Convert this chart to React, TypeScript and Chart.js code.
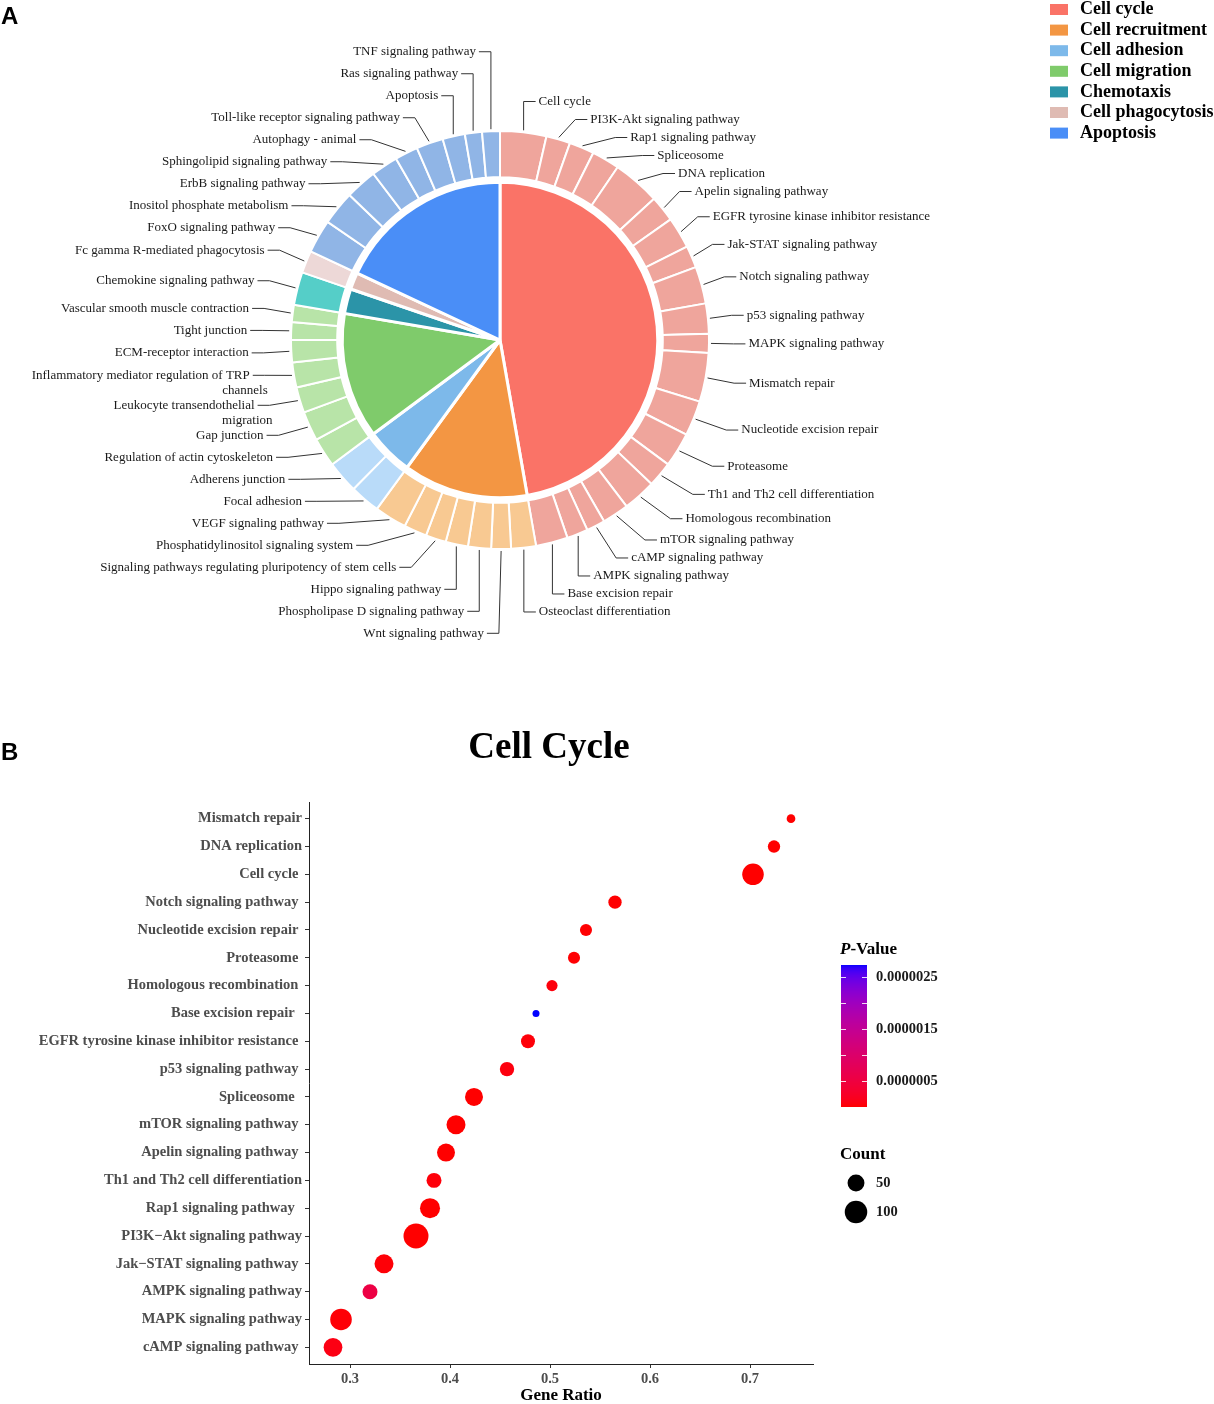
import React, { useEffect, useRef } from 'react';
import { Chart, registerables } from 'chart.js';

Chart.register(...registerables);

const SERIF = "'Liberation Serif', 'Times New Roman', serif";
const SANS = "'Liberation Sans', Arial, sans-serif";

// ---------------- Panel A data ----------------
const categories = ['Cell cycle', 'Cell recruitment', 'Cell adhesion', 'Cell migration', 'Chemotaxis', 'Cell phagocytosis', 'Apoptosis'];
const innerColors = ['#FA7367', '#F39643', '#7DB9EA', '#7FCB6B', '#2B94A8', '#DFBBB3', '#4A8EF7'];
const outerColors = ['#EFA59C', '#F8C992', '#B9DBF9', '#B8E4A8', '#55CEC8', '#EDD8D7', '#90B5E6'];

const cellCyclePathways = ['Cell cycle', 'PI3K-Akt signaling pathway', 'Rap1 signaling pathway', 'Spliceosome', 'DNA replication', 'Apelin signaling pathway', 'EGFR tyrosine kinase inhibitor resistance', 'Jak-STAT signaling pathway', 'Notch signaling pathway', 'p53 signaling pathway', 'MAPK signaling pathway', 'Mismatch repair', 'Nucleotide excision repair', 'Proteasome', 'Th1 and Th2 cell differentiation', 'Homologous recombination', 'mTOR signaling pathway', 'cAMP signaling pathway', 'AMPK signaling pathway', 'Base excision repair'];
const cellCycleShares = [0.703, 0.366, 0.38, 0.424, 0.724, 0.396, 0.478, 0.334, 0.565, 0.457, 0.291, 0.741, 0.536, 0.524, 0.384, 0.502, 0.406, 0.283, 0.32, 0.486];

const recruitmentPathways = ['Osteoclast differentiation', 'Wnt signaling pathway', 'Phospholipase D signaling pathway', 'Hippo signaling pathway', 'Signaling pathways regulating pluripotency of stem cells', 'Phosphatidylinositol signaling system', 'VEGF signaling pathway'];
const recruitmentShares = [0.377, 0.3, 0.35, 0.34, 0.31, 0.35, 0.49];

const adhesionPathways = ['Focal adhesion', 'Adherens junction'];
const adhesionShares = [0.46, 0.49];

const migrationPathways = ['Regulation of actin cytoskeleton', 'Gap junction', 'Leukocyte transendothelial\nmigration', 'Inflammatory mediator regulation of TRP\nchannels', 'ECM-receptor interaction', 'Tight junction', 'Vascular smooth muscle contraction'];
const migrationShares = [0.44, 0.45, 0.39, 0.38, 0.34, 0.27, 0.26];

const chemotaxisPathways = ['Chemokine signaling pathway'];
const chemotaxisShares = [0.5];

const phagocytosisPathways = ['Fc gamma R-mediated phagocytosis'];
const phagocytosisShares = [0.34];

const apoptosisPathways = ['FoxO signaling pathway', 'Inositol phosphate metabolism', 'ErbB signaling pathway', 'Sphingolipid signaling pathway', 'Autophagy - animal', 'Toll-like receptor signaling pathway', 'Apoptosis', 'Ras signaling pathway', 'TNF signaling pathway'];
const apoptosisShares = [0.51, 0.52, 0.48, 0.41, 0.35, 0.41, 0.34, 0.26, 0.27];

// ---------------- Panel B data ----------------
const bubbleTitle = 'Cell Cycle';
const yLabels = ['Mismatch repair', 'DNA replication', 'Cell cycle ', 'Notch signaling pathway ', 'Nucleotide excision repair ', 'Proteasome ', 'Homologous recombination ', 'Base excision repair  ', 'EGFR tyrosine kinase inhibitor resistance ', 'p53 signaling pathway ', 'Spliceosome  ', 'mTOR signaling pathway ', 'Apelin signaling pathway ', 'Th1 and Th2 cell differentiation', 'Rap1 signaling pathway  ', 'PI3K\u2212Akt signaling pathway', 'Jak\u2212STAT signaling pathway ', 'AMPK signaling pathway', 'MAPK signaling pathway', 'cAMP signaling pathway '];
const geneRatio = [0.741, 0.724, 0.703, 0.565, 0.536, 0.524, 0.502, 0.486, 0.478, 0.457, 0.424, 0.406, 0.396, 0.384, 0.38, 0.366, 0.334, 0.32, 0.291, 0.283];
const geneCount = [17, 26, 90, 30, 25, 25, 22, 16, 33, 35, 58, 66, 58, 38, 75, 129, 66, 38, 90, 64];
const pValue = [2.1e-10, 1.5e-14, 3.2e-37, 4.6e-9, 7.5e-9, 1.4e-8, 5.0e-8, 2.74e-6, 3.8e-8, 6.1e-8, 2.2e-12, 9.5e-11, 1.8e-9, 4.3e-8, 6.7e-10, 1.2e-12, 3.1e-8, 5.5e-7, 2.6e-8, 8.9e-8];
const xTicks = [0.3, 0.4, 0.5, 0.6, 0.7];
const colorbarBreaks = [0.0000005, 0.000001, 0.0000015, 0.000002, 0.0000025];
const colorbarLabels = ['0.0000005', '', '0.0000015', '', '0.0000025'];
const sizeBreaks = [50, 100];

// ---------------- helpers ----------------
function lin(c: number) { c /= 255; return c <= 0.04045 ? c / 12.92 : Math.pow((c + 0.055) / 1.055, 2.4); }
function unlin(c: number) { const v = c <= 0.0031308 ? 12.92 * c : 1.055 * Math.pow(c, 1 / 2.4) - 0.055; return Math.round(Math.min(1, Math.max(0, v)) * 255); }
const WX = 0.95047, WY = 1, WZ = 1.08883;
function fL(t: number) { return t > 216 / 24389 ? Math.cbrt(t) : (24389 / 27 * t + 16) / 116; }
function fLinv(t: number) { const t3 = t * t * t; return t3 > 216 / 24389 ? t3 : (116 * t - 16) / (24389 / 27); }
function toLab(rgb: number[]) {
  const R = lin(rgb[0]), G = lin(rgb[1]), B = lin(rgb[2]);
  const X = (0.4124564 * R + 0.3575761 * G + 0.1804375 * B) / WX;
  const Y = (0.2126729 * R + 0.7151522 * G + 0.072175 * B) / WY;
  const Z = (0.0193339 * R + 0.119192 * G + 0.9503041 * B) / WZ;
  const fx = fL(X), fy = fL(Y), fz = fL(Z);
  return [116 * fy - 16, 500 * (fx - fy), 200 * (fy - fz)];
}
function fromLab(lab: number[]) {
  const fy = (lab[0] + 16) / 116, fx = fy + lab[1] / 500, fz = fy - lab[2] / 200;
  const X = fLinv(fx) * WX, Y = fLinv(fy) * WY, Z = fLinv(fz) * WZ;
  const R = 3.2404542 * X - 1.5371385 * Y - 0.4985314 * Z;
  const G = -0.969266 * X + 1.8760108 * Y + 0.041556 * Z;
  const B = 0.0556434 * X - 0.2040259 * Y + 1.0572252 * Z;
  return [unlin(R), unlin(G), unlin(B)];
}
const LOW = toLab([255, 0, 0]);
const HIGH = toLab([0, 0, 255]);
const pMin = Math.min(...pValue);
const pMax = Math.max(...pValue);
function colorOf(p: number) {
  const t = Math.min(1, Math.max(0, (p - pMin) / (pMax - pMin)));
  const c = fromLab([0, 1, 2].map((k) => LOW[k] + (HIGH[k] - LOW[k]) * t));
  return `rgb(${c[0]},${c[1]},${c[2]})`;
}
const cMin = Math.min(...geneCount);
const cMax = Math.max(...geneCount);
function sizeOf(c: number) {
  const t = Math.min(1, Math.max(0, (c - cMin) / (cMax - cMin)));
  return 3.5 + 9 * Math.sqrt(t);
}

const ringGroups = [
  { names: cellCyclePathways, values: cellCycleShares },
  { names: recruitmentPathways, values: recruitmentShares },
  { names: adhesionPathways, values: adhesionShares },
  { names: migrationPathways, values: migrationShares },
  { names: chemotaxisPathways, values: chemotaxisShares },
  { names: phagocytosisPathways, values: phagocytosisShares },
  { names: apoptosisPathways, values: apoptosisShares },
];
const ringNames: string[] = [];
const ringValues: number[] = [];
const ringColors: string[] = [];
ringGroups.forEach((g, gi) => {
  g.names.forEach((n, i) => { ringNames.push(n); ringValues.push(g.values[i]); ringColors.push(outerColors[gi]); });
});
const innerValues = ringGroups.map((g) => g.values.reduce((s, v) => s + v, 0));

type LabelItem = { lines: string[]; a: number; side: number; nat: number; y: number };

// cluster-based spreading (keeps the mean position of crowded groups)
function layoutCluster(items: LabelItem[], gap: number, extra: number) {
  items.sort((p, q) => p.nat - q.nat);
  const after = (it: LabelItem) => gap + (it.lines.length - 1) * extra;
  const clusters: LabelItem[][] = items.map((it) => [it]);
  const place = (c: LabelItem[]) => {
    let off = 0; const offs: number[] = [];
    c.forEach((it) => { offs.push(off); off += after(it); });
    let s = 0; c.forEach((it, k) => { s += it.nat - offs[k]; });
    s /= c.length;
    c.forEach((it, k) => { it.y = s + offs[k]; });
  };
  clusters.forEach(place);
  let merged = true;
  while (merged) {
    merged = false;
    for (let i = 0; i < clusters.length - 1; i++) {
      const A = clusters[i], B = clusters[i + 1];
      const last = A[A.length - 1];
      if (last.y + after(last) > B[0].y + 1e-6) {
        A.push(...B); clusters.splice(i + 1, 1); place(A); merged = true; break;
      }
    }
  }
}
// greedy push-down spreading
function layoutDown(items: LabelItem[], gap: number) {
  items.sort((p, q) => p.nat - q.nat);
  let prev = -Infinity;
  items.forEach((it) => { it.y = Math.max(it.nat, prev + gap); prev = it.y; });
}

const pieDecor = {
  id: 'pieDecor',
  afterDraw(chart: any) {
    const ctx = chart.ctx as CanvasRenderingContext2D;
    const meta = chart.getDatasetMeta(0);
    let cx = 0, cy = 0, R = 0;
    const items: LabelItem[] = meta.data.map((arc: any, i: number) => {
      const p = arc.getProps(['x', 'y', 'startAngle', 'endAngle', 'outerRadius'], true);
      cx = p.x; cy = p.y; R = p.outerRadius;
      const a = (p.startAngle + p.endAngle) / 2;
      let theta = (a + Math.PI / 2) % (2 * Math.PI);
      if (theta < 0) theta += 2 * Math.PI;
      const side = theta < (178 * Math.PI) / 180 ? 1 : -1;
      return { lines: ringNames[i].split('\n'), a, side, nat: p.y + Math.sin(a) * 240, y: 0 };
    });
    layoutDown(items.filter((it) => it.side > 0), 18);
    layoutCluster(items.filter((it) => it.side < 0), 22, 8);
    const H = 12;
    ctx.save();
    ctx.strokeStyle = '#333';
    ctx.lineWidth = 1;
    ctx.fillStyle = '#1a1a1a';
    ctx.font = `13px ${SERIF}`;
    ctx.textBaseline = 'middle';
    items.forEach((it) => {
      const dy = it.y - cy;
      const Re = it.side > 0
        ? (dy < 0 ? 233 : 233 + 14 * Math.min(1, dy / 120))
        : (dy < 0 ? 238 : 236 + 8 * Math.min(1, dy / 150));
      const r0 = R + 2;
      const x0 = cx + Math.cos(it.a) * r0, y0 = cy + Math.sin(it.a) * r0;
      let ex = Math.sqrt(Math.max(0, Re * Re - dy * dy));
      ex = Math.max(ex, Math.abs(Math.cos(it.a)) * r0);
      const exX = cx + it.side * ex;
      ctx.beginPath();
      ctx.moveTo(x0, y0);
      ctx.lineTo(exX, it.y);
      ctx.lineTo(exX + it.side * H, it.y);
      ctx.stroke();
      const tx = exX + it.side * (H + 3);
      ctx.textAlign = it.side > 0 ? 'left' : 'right';
      ctx.fillText(it.lines[0], tx, it.y);
      for (let k = 1; k < it.lines.length; k++) {
        ctx.fillText(it.lines[k], tx - it.side * 18 * k, it.y + 15 * k);
      }
    });
    // legend
    ctx.textAlign = 'left';
    ctx.font = `bold 18px ${SERIF}`;
    categories.forEach((c, i) => {
      const yy = 9.5 + i * 20.6;
      ctx.fillStyle = innerColors[i];
      ctx.fillRect(1050, yy - 5.5, 18, 11);
      ctx.fillStyle = '#000';
      ctx.fillText(c, 1080, yy);
    });
    // panel letter
    ctx.font = `bold 24px ${SANS}`;
    ctx.textBaseline = 'alphabetic';
    ctx.fillText('A', 1, 24);
    ctx.restore();
  },
};

const bubbleDecor = {
  id: 'bubbleDecor',
  afterDraw(chart: any) {
    const ctx = chart.ctx as CanvasRenderingContext2D;
    ctx.save();
    ctx.fillStyle = '#000';
    ctx.textBaseline = 'alphabetic';
    ctx.font = `bold 24px ${SANS}`;
    ctx.textAlign = 'left';
    ctx.fillText('B', 1, 80);
    ctx.font = `bold 37px ${SERIF}`;
    ctx.textAlign = 'center';
    ctx.fillText(bubbleTitle, 549, 78);

    // P-Value title
    ctx.textAlign = 'left';
    ctx.font = `italic bold 17px ${SERIF}`;
    ctx.fillText('P', 840, 274);
    const pw = ctx.measureText('P').width;
    ctx.font = `bold 17px ${SERIF}`;
    ctx.fillText('-Value', 840 + pw, 274);

    // colorbar
    const bx = 841, bw = 26, top = 285, bottom = 427;
    const yOf = (p: number) => bottom - ((p - pMin) / (pMax - pMin)) * (bottom - top);
    for (let y = top; y < bottom; y++) {
      const p = pMin + ((bottom - y - 0.5) / (bottom - top)) * (pMax - pMin);
      ctx.fillStyle = colorOf(p);
      ctx.fillRect(bx, y, bw, 1);
    }
    ctx.strokeStyle = 'rgba(255,255,255,0.85)';
    ctx.lineWidth = 1;
    ctx.font = `bold 14.5px ${SERIF}`;
    ctx.textBaseline = 'middle';
    colorbarBreaks.forEach((b, i) => {
      const y = Math.round(yOf(b)) + 0.5;
      ctx.beginPath();
      ctx.moveTo(bx, y); ctx.lineTo(bx + 5, y);
      ctx.moveTo(bx + bw - 5, y); ctx.lineTo(bx + bw, y);
      ctx.stroke();
      if (colorbarLabels[i]) {
        ctx.fillStyle = '#1a1a1a';
        ctx.fillText(colorbarLabels[i], 876, yOf(b));
      }
    });

    // Count legend
    ctx.textBaseline = 'alphabetic';
    ctx.fillStyle = '#000';
    ctx.font = `bold 17px ${SERIF}`;
    ctx.fillText('Count', 840, 479);
    ctx.font = `bold 14.5px ${SERIF}`;
    ctx.textBaseline = 'middle';
    sizeBreaks.forEach((s, i) => {
      const y = 503 + i * 29;
      ctx.fillStyle = '#000';
      ctx.beginPath();
      ctx.arc(856, y, sizeOf(s), 0, Math.PI * 2);
      ctx.fill();
      ctx.fillStyle = '#1a1a1a';
      ctx.fillText(String(s), 876, y);
    });
    ctx.restore();
  },
};

export default function App() {
  const refA = useRef<HTMLCanvasElement | null>(null);
  const refB = useRef<HTMLCanvasElement | null>(null);

  useEffect(() => {
    document.body.style.margin = '0';
    document.body.style.background = '#fff';
    const chartA = new Chart(refA.current as HTMLCanvasElement, {
      type: 'doughnut',
      data: {
        labels: ringNames,
        datasets: [
          { data: ringValues, backgroundColor: ringColors, borderColor: '#ffffff', borderWidth: 2, weight: 46 } as any,
          { data: [1], backgroundColor: 'rgba(0,0,0,0)', borderWidth: 0, weight: 5 } as any,
          { data: innerValues, backgroundColor: innerColors, borderColor: '#ffffff', borderWidth: 3, weight: 157 } as any,
        ],
      },
      options: {
        responsive: false,
        animation: false,
        devicePixelRatio: 1,
        events: [],
        cutout: 0,
        layout: { padding: { left: 290, right: 504, top: 130, bottom: 130 } },
        plugins: { legend: { display: false }, tooltip: { enabled: false } },
      } as any,
      plugins: [pieDecor],
    });

    const chartB = new Chart(refB.current as HTMLCanvasElement, {
      type: 'bubble',
      data: {
        datasets: [
          {
            data: yLabels.map((_, i) => ({ x: geneRatio[i], y: i, r: sizeOf(geneCount[i]) })),
            backgroundColor: pValue.map(colorOf),
            borderWidth: 0,
          } as any,
        ],
      },
      options: {
        responsive: false,
        animation: false,
        devicePixelRatio: 1,
        events: [],
        layout: { padding: { left: 0, right: 401, top: 122, bottom: 0 } },
        scales: {
          x: {
            type: 'linear',
            min: 0.259,
            max: 0.763,
            afterBuildTicks: (s: any) => { s.ticks = xTicks.map((v) => ({ value: v })); },
            afterFit: (s: any) => { s.height = 40; },
            grid: { drawOnChartArea: false, tickLength: 4, color: '#333' },
            border: { color: '#222', width: 1 },
            ticks: {
              font: { family: SERIF, size: 14.5, weight: 'bold' },
              color: '#4D4D4D',
              padding: 3,
              maxRotation: 0,
              autoSkip: false,
              callback: (v: any) => Number(v).toFixed(1),
            },
            title: {
              display: true,
              text: 'Gene Ratio',
              color: '#000',
              font: { family: SERIF, size: 17, weight: 'bold', lineHeight: 1 },
              padding: 0,
            },
          },
          y: {
            type: 'linear',
            reverse: true,
            min: -0.6,
            max: yLabels.length - 1 + 0.6,
            afterBuildTicks: (s: any) => { s.ticks = yLabels.map((_, i) => ({ value: i })); },
            afterFit: (s: any) => { s.width = 309; },
            grid: { drawOnChartArea: false, tickLength: 4, color: '#333' },
            border: { color: '#222', width: 1 },
            ticks: {
              font: { family: SERIF, size: 14.5, weight: 'bold' },
              color: '#4D4D4D',
              padding: 3,
              autoSkip: false,
              callback: (v: any) => yLabels[Math.round(Number(v))] ?? '',
            },
          },
        },
        plugins: { legend: { display: false }, tooltip: { enabled: false } },
      } as any,
      plugins: [bubbleDecor],
    });

    return () => { chartA.destroy(); chartB.destroy(); };
  }, []);

  return (
    <div style={{ width: 1214, background: '#fff' }}>
      <canvas ref={refA} width={1214} height={680} style={{ display: 'block', width: 1214, height: 680 }} />
      <canvas ref={refB} width={1214} height={724} style={{ display: 'block', width: 1214, height: 724 }} />
    </div>
  );
}
